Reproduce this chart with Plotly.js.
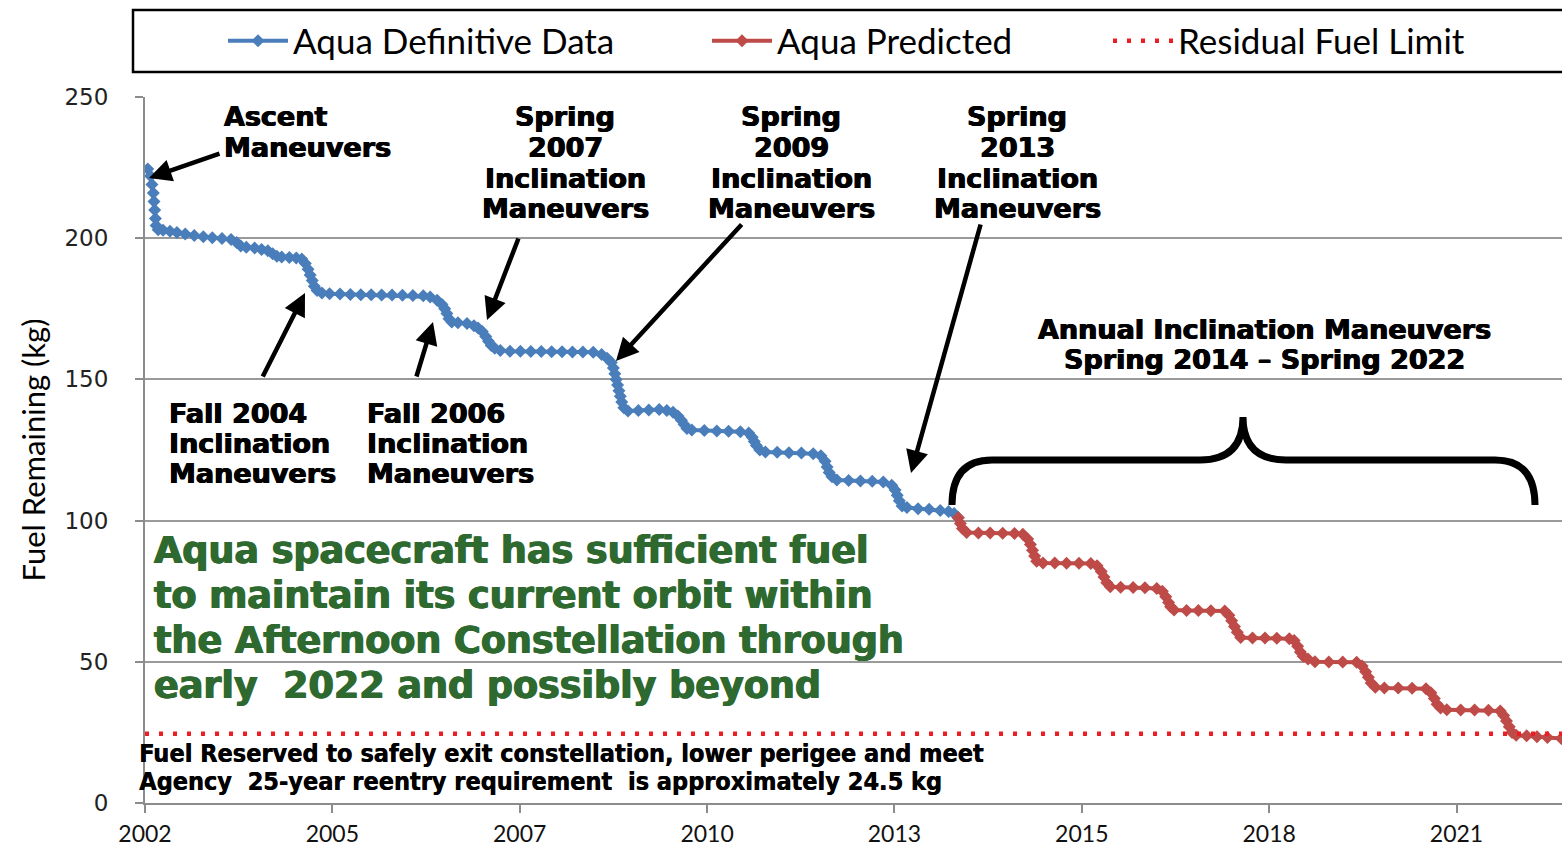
<!DOCTYPE html>
<html>
<head>
<meta charset="utf-8">
<script src="https://cdn.plot.ly/plotly-3.0.1.min.js"></script>
<style>html,body{margin:0;padding:0;background:#fff;}#chart{width:1562px;height:848px;}</style>
</head>
<body>
<div id="chart"></div>
<script>
// ---------------- DATA ----------------
const tickVals = [2002.34, 2005.04, 2007.74, 2010.44, 2013.14, 2015.84, 2018.54, 2021.24];
const tickText = ['2002', '2005', '2007', '2010', '2013', '2015', '2018', '2021'];

const blueYears = [
  2002.38, 2002.42, 2002.44, 2002.46, 2002.47, 2002.48, 2002.49, 2002.50, 2002.53, 2002.60,
  2002.70, 2002.80, 2002.92, 2003.05, 2003.18, 2003.31, 2003.45, 2003.58, 2003.66, 2003.72,
  2003.80, 2003.92, 2004.02, 2004.11, 2004.18, 2004.24, 2004.31, 2004.42, 2004.52, 2004.60,
  2004.65, 2004.69, 2004.72, 2004.75, 2004.78, 2004.82, 2004.89, 2005.00, 2005.15, 2005.30,
  2005.45, 2005.60, 2005.75, 2005.90, 2006.05, 2006.20, 2006.35, 2006.45, 2006.55, 2006.62,
  2006.66, 2006.69, 2006.72, 2006.76, 2006.85, 2006.98, 2007.08, 2007.14, 2007.20, 2007.25,
  2007.29, 2007.33, 2007.38, 2007.46, 2007.60, 2007.75, 2007.90, 2008.05, 2008.20, 2008.35,
  2008.50, 2008.65, 2008.80, 2008.92, 2009.00, 2009.06, 2009.09, 2009.11, 2009.13, 2009.15,
  2009.17, 2009.19, 2009.21, 2009.24, 2009.30, 2009.45, 2009.60, 2009.75, 2009.86, 2009.95,
  2010.02, 2010.07, 2010.11, 2010.15, 2010.22, 2010.40, 2010.58, 2010.75, 2010.92, 2011.04,
  2011.09, 2011.12, 2011.15, 2011.20, 2011.28, 2011.45, 2011.62, 2011.80, 2011.97, 2012.08,
  2012.14, 2012.17, 2012.20, 2012.24, 2012.31, 2012.48, 2012.65, 2012.82, 2012.98, 2013.10,
  2013.15, 2013.18, 2013.21, 2013.25, 2013.32, 2013.48, 2013.64, 2013.80, 2013.92, 2014.00,
  2014.06
];
const blueFuel = [
  224.5, 222.0, 219.0, 216.0, 213.0, 210.0, 207.0, 204.5, 203.0, 202.8,
  202.5, 202.0, 201.5, 201.0, 200.5, 200.2, 199.9, 199.5, 198.5, 197.2,
  196.8, 196.5, 196.0, 195.6, 194.5, 193.6, 193.3, 193.2, 193.0, 192.6,
  191.0, 189.0, 187.0, 185.0, 183.0, 181.5, 180.6, 180.3, 180.2, 180.1,
  180.0, 180.0, 179.9, 179.9, 179.8, 179.7, 179.6, 179.2, 178.0, 176.5,
  175.0, 173.3, 171.5, 170.3, 170.1, 169.8, 169.0, 168.2, 167.0, 165.2,
  163.5, 162.0, 161.0, 160.2, 160.0, 160.0, 159.9, 159.9, 159.8, 159.8,
  159.7, 159.7, 159.6, 158.8, 157.5, 156.0, 154.0, 152.0, 150.0, 148.0,
  146.0, 144.0, 142.0, 140.0, 138.8, 139.0, 139.2, 139.3, 139.0, 138.4,
  137.0, 135.5, 134.0, 132.6, 132.1, 131.9, 131.7, 131.6, 131.5, 131.0,
  129.5, 128.0, 126.6, 125.0, 124.3, 124.2, 124.0, 123.9, 123.7, 123.0,
  121.0, 119.0, 117.0, 115.5, 114.4, 114.2, 114.0, 113.9, 113.7, 112.5,
  110.8, 109.0, 107.0, 105.2, 104.6, 104.2, 104.0, 103.6, 103.2, 102.5,
  101.0
];

const redYears = [
  2014.06, 2014.09, 2014.12, 2014.18, 2014.35, 2014.52, 2014.70, 2014.87, 2014.99, 2015.06,
  2015.10, 2015.13, 2015.16, 2015.19, 2015.28, 2015.45, 2015.62, 2015.80, 2015.97, 2016.06,
  2016.12, 2016.16, 2016.20, 2016.25, 2016.40, 2016.58, 2016.75, 2016.92, 2017.00, 2017.05,
  2017.09, 2017.12, 2017.17, 2017.35, 2017.52, 2017.70, 2017.90, 2017.96, 2018.00, 2018.04,
  2018.08, 2018.13, 2018.30, 2018.48, 2018.65, 2018.83, 2018.90, 2018.95, 2018.99, 2019.03,
  2019.10, 2019.20, 2019.40, 2019.60, 2019.80, 2019.88, 2019.93, 2019.97, 2020.01, 2020.07,
  2020.20, 2020.40, 2020.60, 2020.80, 2020.87, 2020.92, 2020.96, 2021.01, 2021.10, 2021.30,
  2021.50, 2021.70, 2021.87, 2021.92, 2021.96, 2022.00, 2022.04, 2022.10, 2022.25, 2022.40,
  2022.55, 2022.75
];
const redFuel = [
  101.0, 99.0, 97.2, 95.8, 95.6, 95.6, 95.5, 95.4, 95.2, 93.5,
  91.5, 89.5, 87.5, 85.6, 85.0, 85.0, 84.9, 84.9, 84.8, 84.0,
  82.0, 80.0, 78.0, 76.6, 76.4, 76.3, 76.2, 76.0, 75.0, 73.0,
  71.0, 69.5, 68.3, 68.2, 68.2, 68.1, 68.0, 66.5, 64.5, 62.5,
  60.5, 58.6, 58.4, 58.4, 58.3, 58.2, 57.5, 55.5, 53.5, 52.0,
  51.0, 50.0, 49.9, 49.9, 49.8, 48.5, 46.5, 44.5, 42.5, 41.0,
  40.7, 40.7, 40.6, 40.5, 39.0, 37.0, 35.0, 33.6, 33.0, 32.9,
  32.9, 32.8, 32.6, 31.0, 29.0, 27.0, 25.0, 24.0, 23.8, 23.5,
  23.2, 22.8
];

const limitYears = [2002.34, 2022.76];
const limitFuel = [24.5, 24.5];

const seriesNames = ['Aqua Definitive Data', 'Aqua Predicted', 'Residual Fuel Limit'];
const yTitle = 'Fuel Remaining (kg)';

// ---------------- LAYOUT HELPERS ----------------
const W = 1562, H = 848, L = 145, R = 1562, T = 97, B = 803;
const px = x => (x - L) / (R - L);
const py = y => (B - y) / (B - T);

const headFont = {family: 'DejaVu Sans', size: 27, color: '#000', weight: 'bold',
                  shadow: '0.6px 0 0 #000, -0.6px 0 0 #000'};
const greenFont = {family: 'DejaVu Sans', size: 36.5, color: '#2e6930', weight: 'bold',
                   shadow: '0.7px 0 0 #2e6930, -0.7px 0 0 #2e6930'};
const noteFont = {family: 'DejaVu Sans Condensed, DejaVu Sans', size: 25, color: '#000', weight: 'bold',
                  shadow: '0.5px 0 0 #000'};

function textLines(lines, x, y0, dy, anchor, font) {
  return lines.map((t, i) => ({
    xref: 'paper', yref: 'paper', x: px(x), y: py(y0 + i * dy),
    xanchor: anchor, yanchor: 'middle', text: t, showarrow: false, font: font
  }));
}
function arrow(tailX, tailY, tipX, tipY) {
  return {
    xref: 'paper', yref: 'paper', x: px(tipX), y: py(tipY),
    ax: tailX - tipX, ay: tailY - tipY, text: '', showarrow: true,
    arrowhead: 2, arrowsize: 1, arrowwidth: 4.5, arrowcolor: '#000'
  };
}

const annotations = [].concat(
  textLines(['Ascent', 'Maneuvers'], 222, 117, 30.5, 'left', headFont),
  textLines(['Spring', '2007', 'Inclination', 'Maneuvers'], 565, 117, 30.5, 'center', headFont),
  textLines(['Spring', '2009', 'Inclination', 'Maneuvers'], 791, 117, 30.5, 'center', headFont),
  textLines(['Spring', '2013', 'Inclination', 'Maneuvers'], 1017, 117, 30.5, 'center', headFont),
  textLines(['Fall 2004', 'Inclination', 'Maneuvers'], 167, 413, 30.5, 'left', headFont),
  textLines(['Fall 2006', 'Inclination', 'Maneuvers'], 365, 413, 30.5, 'left', headFont),
  textLines(['Annual Inclination Maneuvers', 'Spring 2014 \u2013 Spring 2022'], 1264, 329, 30.5, 'center', headFont),
  textLines(['Aqua spacecraft has sufficient fuel', 'to maintain its current orbit within',
             'the Afternoon Constellation through', 'early  2022 and possibly beyond'], 152, 550, 45.3, 'left', greenFont),
  textLines(['Fuel Reserved to safely exit constellation, lower perigee and meet',
             'Agency  25-year reentry requirement  is approximately 24.5 kg'], 137, 753, 28, 'left', noteFont),
  [
    arrow(221, 153, 149, 178),
    arrow(262, 378, 305, 293),
    arrow(416, 378, 433, 322),
    arrow(519, 237, 487, 320),
    arrow(743, 223, 616, 361),
    arrow(981, 223, 911, 473)
  ]
);

const P = (x, y) => px(x).toFixed(5) + ',' + py(y).toFixed(5);
const bracePath = 'M' + P(952, 505) + ' Q' + P(952, 460) + ' ' + P(992, 460) +
  ' L' + P(1200, 460) + ' Q' + P(1243, 460) + ' ' + P(1243, 417) +
  ' Q' + P(1243, 460) + ' ' + P(1286, 460) + ' L' + P(1495, 460) +
  ' Q' + P(1535, 460) + ' ' + P(1535, 505);

const shapes = [
  {type: 'rect', xref: 'paper', yref: 'paper', x0: px(133), x1: px(1580), y0: py(72), y1: py(10),
   line: {color: '#000', width: 2.5}, fillcolor: 'rgba(0,0,0,0)', layer: 'above'},
  {type: 'rect', xref: 'paper', yref: 'paper', x0: px(460), x1: px(672), y0: py(104), y1: py(90),
   line: {width: 0}, fillcolor: '#fff', layer: 'above'},
  {type: 'path', xref: 'paper', yref: 'paper', path: bracePath,
   line: {color: '#000', width: 7}, layer: 'above'}
];

const legendFont = {family: 'Lato, Open Sans', size: 35, color: '#000'};
const legBase = {orientation: 'h', xanchor: 'left', yanchor: 'middle', y: py(41),
  bgcolor: 'rgba(0,0,0,0)', borderwidth: 0, font: legendFont, itemwidth: 60};

const traces = [
  {x: blueYears, y: blueFuel, name: seriesNames[0], type: 'scatter', mode: 'lines+markers',
   line: {color: '#4a7ebb', width: 4}, marker: {symbol: 'diamond', size: 10, color: '#4a7ebb'},
   legend: 'legend'},
  {x: redYears, y: redFuel, name: seriesNames[1], type: 'scatter', mode: 'lines+markers',
   line: {color: '#be4b48', width: 4}, marker: {symbol: 'diamond', size: 10, color: '#be4b48'},
   legend: 'legend2'},
  {x: limitYears, y: limitFuel, name: seriesNames[2], type: 'scatter', mode: 'lines',
   line: {color: '#ee1c25', width: 4.5, dash: '4px,10px'}, legend: 'legend3'}
];

const layout = {
  width: W, height: H,
  margin: {l: L, r: W - R, t: T, b: H - B, pad: 0},
  paper_bgcolor: '#fff', plot_bgcolor: '#fff',
  showlegend: true,
  legend: Object.assign({}, legBase, {x: px(223)}),
  legend2: Object.assign({}, legBase, {x: px(707)}),
  legend3: Object.assign({}, legBase, {x: px(1108)}),
  xaxis: {
    range: [2002.34, 2022.76], tickmode: 'array', tickvals: tickVals, ticktext: tickText,
    showgrid: false, zeroline: false, showline: true, linecolor: '#8c8c8c', linewidth: 2,
    ticks: 'outside', ticklen: 8, tickwidth: 2, tickcolor: '#8c8c8c', ticklabelstandoff: 1,
    tickfont: {family: 'Lato', size: 23, color: '#111'}
  },
  yaxis: {
    range: [0, 250], tickmode: 'array', tickvals: [0, 50, 100, 150, 200, 250],
    showgrid: true, gridcolor: '#9a9a9a', gridwidth: 2, zeroline: false,
    showline: true, linecolor: '#8c8c8c', linewidth: 2,
    ticks: 'outside', ticklen: 8, tickwidth: 2, tickcolor: '#8c8c8c', ticklabelstandoff: 22,
    tickfont: {family: 'DejaVu Sans', size: 23, color: '#222'},
    title: {text: yTitle, font: {family: 'Lato', size: 31, color: '#000'}, standoff: 10}
  },
  annotations: annotations,
  shapes: shapes
};

Plotly.newPlot('chart', traces, layout, {displayModeBar: false, staticPlot: true});
</script>
</body>
</html>
